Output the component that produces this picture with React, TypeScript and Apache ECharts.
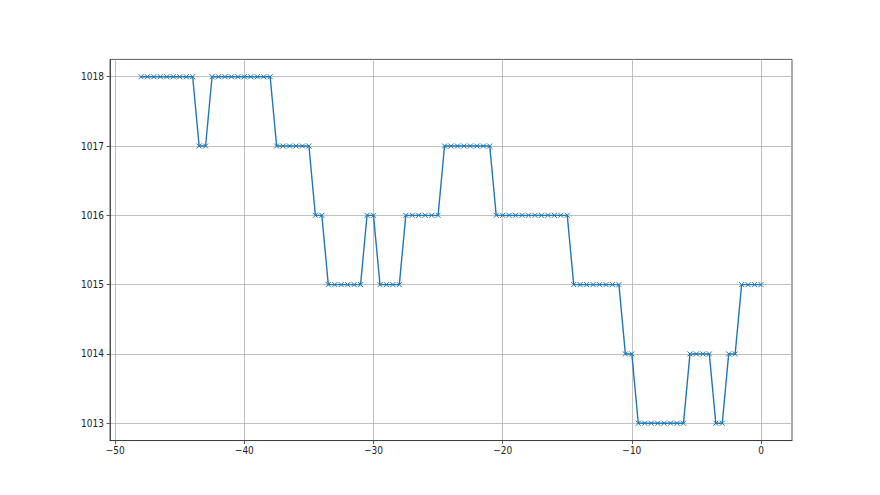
import React, { useEffect, useRef } from "react";
import * as echarts from "echarts";

const xValues = [
  -48, -47.5, -47, -46.5, -46, -45.5, -45, -44.5, -44, -43.5, -43, -42.5, -42, -41.5, -41, -40.5,
  -40, -39.5, -39, -38.5, -38, -37.5, -37, -36.5, -36, -35.5, -35, -34.5, -34, -33.5, -33, -32.5,
  -32, -31.5, -31, -30.5, -30, -29.5, -29, -28.5, -28, -27.5, -27, -26.5, -26, -25.5, -25, -24.5,
  -24, -23.5, -23, -22.5, -22, -21.5, -21, -20.5, -20, -19.5, -19, -18.5, -18, -17.5, -17, -16.5,
  -16, -15.5, -15, -14.5, -14, -13.5, -13, -12.5, -12, -11.5, -11, -10.5, -10, -9.5, -9, -8.5,
  -8, -7.5, -7, -6.5, -6, -5.5, -5, -4.5, -4, -3.5, -3, -2.5, -2, -1.5, -1, -0.5, 0,
];

const pressure = [
  1018, 1018, 1018, 1018, 1018, 1018, 1018, 1018, 1018, 1017, 1017, 1018, 1018, 1018, 1018, 1018,
  1018, 1018, 1018, 1018, 1018, 1017, 1017, 1017, 1017, 1017, 1017, 1016, 1016, 1015, 1015, 1015,
  1015, 1015, 1015, 1016, 1016, 1015, 1015, 1015, 1015, 1016, 1016, 1016, 1016, 1016, 1016, 1017,
  1017, 1017, 1017, 1017, 1017, 1017, 1017, 1016, 1016, 1016, 1016, 1016, 1016, 1016, 1016, 1016,
  1016, 1016, 1016, 1015, 1015, 1015, 1015, 1015, 1015, 1015, 1015, 1014, 1014, 1013, 1013, 1013,
  1013, 1013, 1013, 1013, 1013, 1014, 1014, 1014, 1014, 1013, 1013, 1014, 1014, 1015, 1015, 1015, 1015,
];

const xTicks = [-50, -40, -30, -20, -10, 0];
const yTicks = [1013, 1014, 1015, 1016, 1017, 1018];

export default function App() {
  const ref = useRef<HTMLDivElement>(null);
  useEffect(() => {
    if (!ref.current) return;
    const chart = echarts.init(ref.current, null, { renderer: "svg" });
    const data = xValues.map((x, i) => [x, pressure[i]]);
    const axisText = {
      color: "#222",
      fontSize: 10,
      fontFamily: "'Liberation Sans Narrow', 'DejaVu Sans Condensed', 'DejaVu Sans', sans-serif",
    };
    chart.setOption({
      animation: false,
      backgroundColor: "#fff",
      grid: {
        left: 110,
        right: 88,
        top: 59.4,
        bottom: 54.45,
        show: true,
        borderColor: "#333",
        borderWidth: 0.8,
        backgroundColor: "transparent",
      },
      xAxis: {
        type: "value",
        min: -50.4,
        max: 2.4,
        axisLine: { show: true, onZero: false, lineStyle: { color: "#333", width: 0.8 } },
        axisTick: { show: true, length: 3.5, customValues: xTicks, lineStyle: { color: "#333", width: 0.8 } },
        axisLabel: {
          ...axisText,
          margin: 5,
          customValues: xTicks,
          formatter: (v: number) => (v < 0 ? "\u2212" + Math.abs(v) : String(v)),
        },
        splitLine: { show: true, lineStyle: { color: "#b0b0b0", width: 0.8 } },
      },
      yAxis: {
        type: "value",
        min: 1012.75,
        max: 1018.25,
        axisLine: { show: true, onZero: false, lineStyle: { color: "#333", width: 0.8 } },
        axisTick: { show: true, length: 3.5, customValues: yTicks, lineStyle: { color: "#333", width: 0.8 } },
        axisLabel: { ...axisText, margin: 6, customValues: yTicks, formatter: (v: number) => String(v) },
        splitLine: { show: true, lineStyle: { color: "#b0b0b0", width: 0.8 } },
      },
      series: [
        {
          type: "line",
          data,
          symbol: "path://M0,0L10,10M10,0L0,10",
          symbolSize: 5,
          showAllSymbol: true,
          lineStyle: { color: "#1f77b4", width: 1.4 },
          itemStyle: { color: "rgba(0,0,0,0)", borderColor: "#1f77b4", borderWidth: 1 },
        },
      ],
    });
    return () => chart.dispose();
  }, []);
  return (
    <div
      ref={ref}
      style={{ position: "fixed", left: 0, top: 0, width: 880, height: 495 }}
    />
  );
}
